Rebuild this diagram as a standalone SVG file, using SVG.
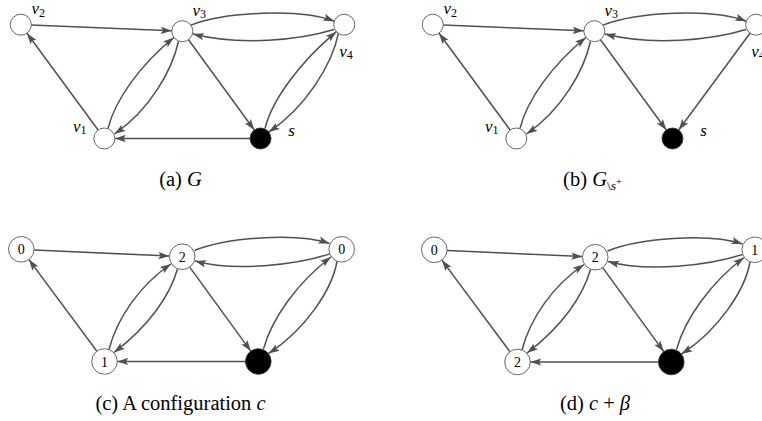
<svg xmlns="http://www.w3.org/2000/svg" width="762" height="421" viewBox="0 0 762 421">
<style>
.e{fill:none;stroke:#505050;stroke-width:1.5;marker-end:url(#ah)}
.n{fill:#fff;stroke:#555;stroke-width:0.9}
.s{fill:#000;stroke:#333;stroke-width:0.9}
text{font-family:'Liberation Serif','Times New Roman','DejaVu Serif',serif;fill:#000}
.lb{font-style:italic;font-size:17px}
.sb{font-style:normal;font-size:12px}
.d{font-size:14px;text-anchor:middle}
.cap{font-size:20.5px;text-anchor:middle}
.it{font-style:italic}
</style>
<defs>
<marker id="ah" markerUnits="userSpaceOnUse" markerWidth="11" markerHeight="8" refX="11" refY="4" orient="auto" viewBox="0 0 11 8">
<path d="M0,0.3 L11,4 L0,7.7 L2.2,4 z" fill="#505050"/>
</marker>
</defs>

<!-- Panel (a) -->
<g id="panel-a">
<g id="a-edges">
<path class="e" d="M31.3,25.1 L171.8,30.8"/>
<path class="e" d="M98.1,130 L27,33.2"/>
<path class="e" d="M188.5,39.7 L254.3,130"/>
<path class="e" d="M250,138.5 L114.8,138.5"/>
<path class="e" d="M108,128.5 C115,100 140,65 173.9,37.5"/>
<path class="e" d="M178.5,41.5 C172,70 150,110 114.5,134"/>
<path class="e" d="M190.9,25.1 C225,12 300,8 334.3,21.3"/>
<path class="e" d="M334,29.5 C300,40 240,46 193,34"/>
<path class="e" d="M265,128.5 C272,100 300,62 336.4,31.7"/>
<path class="e" d="M338.4,33.4 C332,65 305,108 268.7,132"/>
</g>
<g id="a-v2"><circle class="n" cx="20.8" cy="24.7" r="10.5"/><text class="lb" x="31.5" y="14" font-family="Liberation Serif, serif">v<tspan class="sb" dy="2.5">2</tspan></text></g>
<g id="a-v3"><circle class="n" cx="182.3" cy="31.2" r="10.5"/><text class="lb" x="192.5" y="15.5" font-family="Liberation Serif, serif">v<tspan class="sb" dy="2.5">3</tspan></text></g>
<g id="a-v4"><circle class="n" cx="344.2" cy="24.7" r="10.5"/><text class="lb" x="339.3" y="56.5" font-family="Liberation Serif, serif">v<tspan class="sb" dy="2.5">4</tspan></text></g>
<g id="a-v1"><circle class="n" cx="104.3" cy="138.5" r="10.5"/><text class="lb" x="73" y="131.5" font-family="Liberation Serif, serif">v<tspan class="sb" dy="2.5">1</tspan></text></g>
<g id="a-s"><circle class="s" cx="260.5" cy="138.5" r="10.5"/><text class="lb" x="288.3" y="136" font-family="Liberation Serif, serif">s</text></g>
<text class="cap" x="180.5" y="185.5" font-family="Liberation Serif, serif">(a) <tspan class="it">G</tspan></text>
</g>

<!-- Panel (b) -->
<g id="panel-b" transform="translate(412,0)">
<g id="b-edges">
<path class="e" d="M31.3,25.1 L171.8,30.8"/>
<path class="e" d="M98.1,130 L27,33.2"/>
<path class="e" d="M188.5,39.7 L254.3,130"/>
<path class="e" d="M108,128.5 C115,100 140,65 173.9,37.5"/>
<path class="e" d="M178.5,41.5 C172,70 150,110 114.5,134"/>
<path class="e" d="M190.9,25.1 C225,12 300,8 334.3,21.3"/>
<path class="e" d="M334,29.5 C300,40 240,46 193,34"/>
<path class="e" d="M338,33.2 L266.7,130"/>
</g>
<g id="b-v2"><circle class="n" cx="20.8" cy="24.7" r="10.5"/><text class="lb" x="31.5" y="14" font-family="Liberation Serif, serif">v<tspan class="sb" dy="2.5">2</tspan></text></g>
<g id="b-v3"><circle class="n" cx="182.3" cy="31.2" r="10.5"/><text class="lb" x="192.5" y="15.5" font-family="Liberation Serif, serif">v<tspan class="sb" dy="2.5">3</tspan></text></g>
<g id="b-v4"><circle class="n" cx="344.2" cy="24.7" r="10.5"/><text class="lb" x="339.3" y="56.5" font-family="Liberation Serif, serif">v<tspan class="sb" dy="2.5">4</tspan></text></g>
<g id="b-v1"><circle class="n" cx="104.3" cy="138.5" r="10.5"/><text class="lb" x="73" y="131.5" font-family="Liberation Serif, serif">v<tspan class="sb" dy="2.5">1</tspan></text></g>
<g id="b-s"><circle class="s" cx="260.5" cy="138.5" r="10.5"/><text class="lb" x="288.3" y="136" font-family="Liberation Serif, serif">s</text></g>
<text class="cap" x="180.5" y="185.5" font-family="Liberation Serif, serif">(b) <tspan class="it">G</tspan><tspan font-size="13.5" dy="4">\</tspan><tspan class="it" font-size="13.5">s</tspan><tspan font-size="10.5" dy="-5">+</tspan></text>
</g>

<!-- Panel (c) -->
<g id="panel-c">
<g id="c-edges">
<path class="e" d="M34.1,249.9 L169.4,256.1"/>
<path class="e" d="M96.9,351.2 L28.9,259.6"/>
<path class="e" d="M189.7,267.1 L250.8,351.1"/>
<path class="e" d="M245.5,361.5 L117.3,361.5"/>
<path class="e" d="M109,349.5 C117,318 140,285 171,264"/>
<path class="e" d="M177.5,269 C170,295 150,325 114,352.5"/>
<path class="e" d="M194.5,250.5 C225,238 295,232 329.5,243.5"/>
<path class="e" d="M329.5,254 C295,265 235,272 195,261"/>
<path class="e" d="M263.5,349 C272,318 298,282 331,257"/>
<path class="e" d="M337,261.5 C332,290 305,330 268.5,353.5"/>
</g>
<g id="c-v2"><circle class="n" cx="21.3" cy="249.3" r="12.8"/><text class="d" x="21.3" y="254.3" font-family="Liberation Serif, serif">0</text></g>
<g id="c-v3"><circle class="n" cx="182.2" cy="256.7" r="12.8"/><text class="d" x="182.2" y="261.7" font-family="Liberation Serif, serif">2</text></g>
<g id="c-v4"><circle class="n" cx="341.7" cy="249.3" r="12.8"/><text class="d" x="341.7" y="254.3" font-family="Liberation Serif, serif">0</text></g>
<g id="c-v1"><circle class="n" cx="104.5" cy="361.5" r="12.8"/><text class="d" x="104.5" y="366.5" font-family="Liberation Serif, serif">1</text></g>
<g id="c-s"><circle class="s" cx="258.3" cy="361.5" r="12.8"/></g>
<text class="cap" x="180.5" y="409.5" font-family="Liberation Serif, serif">(c) A configuration <tspan class="it">c</tspan></text>
</g>

<!-- Panel (d) -->
<g id="panel-d" transform="translate(413,0.5)">
<g id="d-edges">
<path class="e" d="M34.1,249.9 L169.4,256.1"/>
<path class="e" d="M96.9,351.2 L28.9,259.6"/>
<path class="e" d="M189.7,267.1 L250.8,351.1"/>
<path class="e" d="M245.5,361.5 L117.3,361.5"/>
<path class="e" d="M109,349.5 C117,318 140,285 171,264"/>
<path class="e" d="M177.5,269 C170,295 150,325 114,352.5"/>
<path class="e" d="M194.5,250.5 C225,238 295,232 329.5,243.5"/>
<path class="e" d="M329.5,254 C295,265 235,272 195,261"/>
<path class="e" d="M263.5,349 C272,318 298,282 331,257"/>
<path class="e" d="M337,261.5 C332,290 305,330 268.5,353.5"/>
</g>
<g id="d-v2"><circle class="n" cx="21.3" cy="249.3" r="12.8"/><text class="d" x="21.3" y="254.3" font-family="Liberation Serif, serif">0</text></g>
<g id="d-v3"><circle class="n" cx="182.2" cy="256.7" r="12.8"/><text class="d" x="182.2" y="261.7" font-family="Liberation Serif, serif">2</text></g>
<g id="d-v4"><circle class="n" cx="341.7" cy="249.3" r="12.8"/><text class="d" x="341.7" y="254.3" font-family="Liberation Serif, serif">1</text></g>
<g id="d-v1"><circle class="n" cx="104.5" cy="361.5" r="12.8"/><text class="d" x="104.5" y="366.5" font-family="Liberation Serif, serif">2</text></g>
<g id="d-s"><circle class="s" cx="258.3" cy="361.5" r="12.8"/></g>
<text class="cap" x="182" y="409" font-family="Liberation Serif, serif">(d) <tspan class="it">c</tspan> + <tspan class="it">β</tspan></text>
</g>
</svg>
